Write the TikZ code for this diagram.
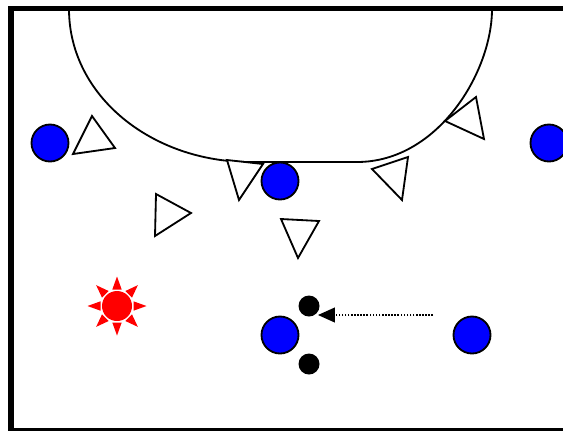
\documentclass[tikz,border=0pt]{standalone}
\usepackage{xcolor}
\usepackage{tikz}
\usetikzlibrary{arrows.meta}
\definecolor{attackblue}{RGB}{0, 0, 255}
\definecolor{coachred}{RGB}{255, 0, 0}

\begin{document}
\begin{tikzpicture}[
    x=0.025cm, y=-0.025cm,
    attacker/.style={circle, minimum size=0.925cm, inner sep=0pt, draw=black,
                     line width=1.3pt, fill=attackblue},
    marker/.style={circle, minimum size=0.525cm, inner sep=0pt, fill=black},
    coach/.style={circle, minimum size=0.75cm, inner sep=0pt, fill=coachred},
    defender/.style={draw=black, line width=1.3pt, fill=white},
    zone/.style={draw=black, line width=1.3pt},
    run/.style={draw=black, line width=0.9pt, dash pattern=on 1.1pt off 1.1pt,
                -{Triangle[length=0.42cm, width=0.37cm]}}
]
    \useasboundingbox (0,0) rectangle (563,430);

    % Goal area
    \draw[zone] (69,9) .. controls (69,96) and (152,162) .. (250,162)
        -- (357,162) .. controls (438,162) and (492,72) .. (492,9);

    % Court
    \draw[line width=3.9pt] (11,8.5) rectangle (640,431);

    % Defenders
    \draw[defender] (92,116) -- (73,154) -- (115,148) -- cycle;
    \draw[defender] (156,194) -- (191,213) -- (155,236) -- cycle;
    \draw[defender] (227,160) -- (263,164) -- (239,200) -- cycle;
    \draw[defender] (281,219) -- (319,221) -- (298,258) -- cycle;
    \draw[defender] (372,169) -- (408,157) -- (402,200) -- cycle;
    \draw[defender] (445,121) -- (476,97) -- (484,139) -- cycle;

    % Attackers
    \node[attacker] (lw) at (50,143) {};
    \node[attacker] (pivot) at (280,181) {};
    \node[attacker] (rw) at (549,143) {};
    \node[attacker] (cb) at (280,335) {};
    \node[attacker] (rb) at (472,335) {};

    % Coach
    \foreach \a in {0,45,...,315}
        \fill[coachred, shift={(117,306)}, rotate=\a] (16.5,-4.7) -- (29.5,0) -- (16.5,4.7) -- cycle;
    \node[coach] (coach) at (117,306) {};

    % Cones
    \node[marker] (cone1) at (309,306) {};
    \node[marker] (cone2) at (309,364) {};

    % Run
    \coordinate (runstart) at (433,315);
    \coordinate (runend) at (318,315);
    \draw[run] (runstart) -- (runend);
\end{tikzpicture}
\end{document}
